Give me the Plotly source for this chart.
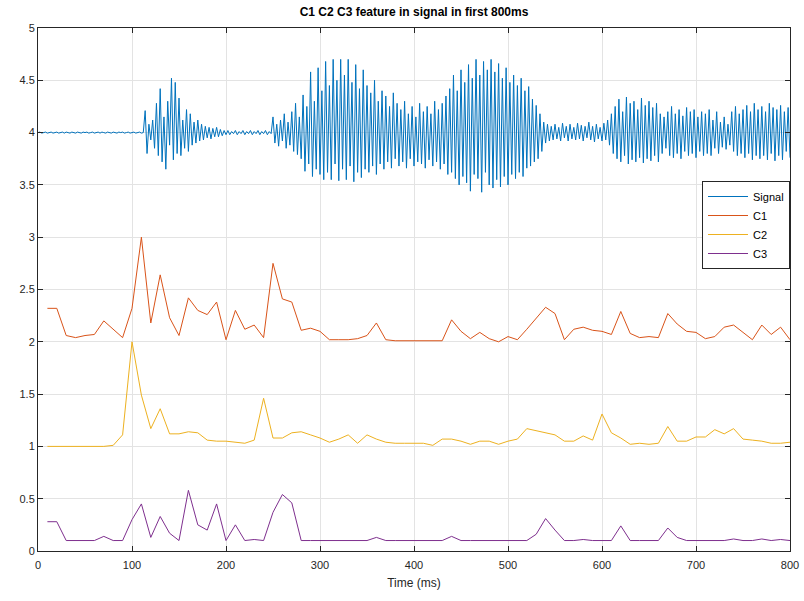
import plotly.graph_objects as go

# ---- data ----
feat_t = list(range(10, 801, 10))

c1 = [2.32, 2.32, 2.06, 2.04, 2.06, 2.07, 2.20, 2.12, 2.04, 2.32,
      3.00, 2.18, 2.64, 2.23, 2.06, 2.42, 2.30, 2.26, 2.38, 2.02,
      2.30, 2.12, 2.16, 2.04, 2.75, 2.41, 2.38, 2.11, 2.13, 2.10,
      2.02, 2.02, 2.02, 2.03, 2.06, 2.18, 2.02, 2.01, 2.01, 2.01,
      2.01, 2.01, 2.01, 2.21, 2.10, 2.03, 2.09, 2.03, 2.00, 2.05,
      2.02, 2.12, 2.22, 2.33, 2.27, 2.02, 2.12, 2.14, 2.11, 2.10,
      2.07, 2.29, 2.08, 2.04, 2.05, 2.04, 2.27, 2.17, 2.10, 2.09,
      2.03, 2.05, 2.14, 2.16, 2.09, 2.02, 2.16, 2.07, 2.14, 2.02]

c2 = [1.00, 1.00, 1.00, 1.00, 1.00, 1.00, 1.00, 1.01, 1.11, 2.00,
      1.49, 1.17, 1.36, 1.12, 1.12, 1.14, 1.13, 1.06, 1.05, 1.05,
      1.04, 1.03, 1.06, 1.46, 1.08, 1.08, 1.13, 1.14, 1.11, 1.08,
      1.04, 1.07, 1.11, 1.03, 1.11, 1.07, 1.04, 1.03, 1.03, 1.03,
      1.03, 1.01, 1.07, 1.07, 1.05, 1.02, 1.05, 1.05, 1.02, 1.05,
      1.07, 1.17, 1.15, 1.13, 1.11, 1.05, 1.05, 1.10, 1.06, 1.31,
      1.13, 1.08, 1.02, 1.03, 1.02, 1.03, 1.19, 1.05, 1.05, 1.09,
      1.09, 1.16, 1.12, 1.17, 1.07, 1.06, 1.05, 1.03, 1.03, 1.04]

c3 = [0.28, 0.28, 0.10, 0.10, 0.10, 0.10, 0.14, 0.10, 0.10, 0.30,
      0.45, 0.13, 0.33, 0.17, 0.10, 0.58, 0.25, 0.20, 0.45, 0.10,
      0.25, 0.10, 0.11, 0.10, 0.37, 0.54, 0.46, 0.10, 0.10, 0.10,
      0.10, 0.10, 0.10, 0.10, 0.10, 0.13, 0.10, 0.10, 0.10, 0.10,
      0.10, 0.10, 0.10, 0.14, 0.10, 0.10, 0.10, 0.10, 0.10, 0.10,
      0.10, 0.10, 0.16, 0.31, 0.20, 0.10, 0.10, 0.11, 0.10, 0.10,
      0.10, 0.24, 0.10, 0.10, 0.10, 0.10, 0.22, 0.13, 0.10, 0.10,
      0.10, 0.10, 0.10, 0.115, 0.10, 0.10, 0.115, 0.10, 0.11, 0.10]

# signal sampled every 2 ms (0 .. 800 ms)
signal = [
    4.000, 4.005, 3.995, 4.000, 4.005, 3.995, 4.000, 4.005, 3.995, 4.000,
    4.005, 3.995, 4.000, 4.005, 3.995, 4.005, 4.000, 3.995, 4.005, 4.000,
    3.995, 4.005, 4.000, 3.995, 4.005, 4.000, 4.005, 3.995, 4.000, 4.005,
    3.995, 4.000, 4.005, 3.995, 4.005, 4.000, 3.995, 4.005, 4.000, 3.995,
    4.005, 4.000, 3.995, 4.005, 4.000, 4.005, 3.995, 4.000, 4.005, 3.995,
    4.000, 4.005, 3.995, 4.000, 4.005, 3.995, 4.000,
    4.21, 3.80, 4.08, 3.93, 4.12, 3.85, 4.28, 3.78,
    4.42, 3.72, 4.15, 3.65, 4.30, 3.88, 4.52, 3.74, 4.48, 3.80,
    4.33, 3.78, 4.12, 3.85, 4.22, 3.82, 4.18, 3.88, 4.10, 3.90,
    4.12, 3.92, 4.08, 3.93, 4.06, 3.95, 4.05, 3.94, 4.04, 3.96,
    4.05, 3.96, 4.03, 3.97, 4.02, 3.98, 4.02, 3.98, 4.01, 3.99,
    4.02, 3.98, 4.01, 3.99, 4.02, 3.98, 4.01, 3.99, 4.02, 3.98,
    4.01, 3.99, 4.02, 3.98, 4.01, 3.99, 4.02, 3.98, 4.01, 3.99,
    4.15, 3.90, 4.08, 3.87, 4.12, 3.92, 4.18, 3.85, 4.10, 3.88,
    4.20, 3.82, 4.28, 3.79, 4.15, 3.75, 4.36, 3.63, 4.25, 3.70,
    4.58, 3.58, 4.30, 3.65, 4.62, 3.60, 4.40, 3.55, 4.68, 3.62,
    4.45, 3.55, 4.70, 3.70, 4.50, 3.54, 4.70, 3.65, 4.55, 3.55,
    4.70, 3.68, 4.48, 3.53, 4.65, 3.62, 4.42, 3.57, 4.60, 3.65,
    4.45, 3.62, 4.38, 3.68, 4.50, 3.60, 4.30, 3.70, 4.40, 3.65,
    4.35, 3.72, 4.25, 3.66, 4.38, 3.75, 4.28, 3.68, 4.22, 3.72,
    4.30, 3.66, 4.18, 3.75, 4.25, 3.68, 4.15, 3.72, 4.28, 3.70,
    4.20, 3.66, 4.25, 3.74, 4.18, 3.68, 4.30, 3.72, 4.22, 3.65,
    4.28, 3.70, 4.35, 3.60, 4.42, 3.62, 4.55, 3.56, 4.40, 3.50,
    4.60, 3.58, 4.48, 3.52, 4.65, 3.44, 4.52, 3.60, 4.70, 3.56,
    4.55, 3.43, 4.68, 3.62, 4.60, 3.50, 4.70, 3.47, 4.58, 3.55,
    4.66, 3.48, 4.52, 3.58, 4.62, 3.50, 4.48, 3.60, 4.55, 3.56,
    4.45, 3.62, 4.52, 3.58, 4.40, 3.66, 4.44, 3.68, 4.32, 3.72,
    4.26, 3.75, 4.18, 3.82, 4.10, 3.90, 4.08, 3.92, 4.06, 3.93,
    4.08, 3.94, 4.05, 3.92, 4.09, 3.95, 4.06, 3.92, 4.08, 3.94,
    4.05, 3.93, 4.09, 3.94, 4.07, 3.92, 4.06, 3.95, 4.10, 3.93,
    4.06, 3.91, 4.08, 3.94, 4.05, 3.92, 4.09, 3.93, 4.12, 3.88,
    4.18, 3.80, 4.25, 3.75, 4.32, 3.72, 4.20, 3.78, 4.34, 3.70,
    4.28, 3.74, 4.30, 3.72, 4.22, 3.76, 4.33, 3.71, 4.26, 3.75,
    4.30, 3.73, 4.24, 3.78, 4.28, 3.72, 4.18, 3.80, 4.15, 3.85,
    4.20, 3.78, 4.25, 3.76, 4.18, 3.80, 4.22, 3.75, 4.16, 3.82,
    4.24, 3.78, 4.20, 3.80, 4.22, 3.76, 4.15, 3.82, 4.20, 3.78,
    4.18, 3.80, 4.22, 3.78, 4.12, 3.85, 4.20, 3.80, 4.10, 3.86,
    4.15, 3.84, 4.08, 3.88, 4.20, 3.82, 4.25, 3.78, 4.18, 3.80,
    4.22, 3.76, 4.26, 3.80, 4.20, 3.74, 4.28, 3.78, 4.22, 3.75,
    4.25, 3.78, 4.20, 3.74, 4.28, 3.80, 4.24, 3.73, 4.22, 3.78,
    4.26, 3.74, 4.20, 3.82, 4.24, 3.76,
]
signal_t = [2 * i for i in range(len(signal))]

x_ticks = [0, 100, 200, 300, 400, 500, 600, 700, 800]
y_ticks = [0, 0.5, 1, 1.5, 2, 2.5, 3, 3.5, 4, 4.5, 5]

# ---- figure ----
FONT = "Liberation Sans, Arial, sans-serif"
fig = go.Figure()
fig.add_trace(go.Scatter(x=signal_t, y=signal, mode="lines", name="Signal",
                         line=dict(color="#0072BD", width=1)))
fig.add_trace(go.Scatter(x=feat_t, y=c1, mode="lines", name="C1",
                         line=dict(color="#D95319", width=1)))
fig.add_trace(go.Scatter(x=feat_t, y=c2, mode="lines", name="C2",
                         line=dict(color="#EDB120", width=1)))
fig.add_trace(go.Scatter(x=feat_t, y=c3, mode="lines", name="C3",
                         line=dict(color="#7E2F8E", width=1)))

axis_common = dict(
    showgrid=True, gridcolor="#e3e3e3", gridwidth=1,
    showline=True, linecolor="#262626", linewidth=1, mirror="ticks",
    ticks="inside", ticklen=5, tickcolor="#262626",
    tickfont=dict(family=FONT, size=11, color="#262626"),
    zeroline=False, automargin=False,
)

fig.update_layout(
    width=804, height=601,
    margin=dict(l=38, r=14, t=28, b=50, autoexpand=False),
    paper_bgcolor="white", plot_bgcolor="white",
    font=dict(family=FONT, size=11, color="#262626"),
    title=dict(text="<b>C1 C2 C3 feature in signal in first 800ms</b>",
               x=0.5, xanchor="center", xref="paper",
               y=1 - 12 / 601, yref="container", yanchor="middle",
               font=dict(family=FONT, size=12, color="#000000")),
    xaxis=dict(range=[0, 800], tickvals=x_ticks, ticklabelstandoff=4,
               title=dict(text="Time (ms)", standoff=8,
                          font=dict(family=FONT, size=12, color="#262626")),
               **axis_common),
    yaxis=dict(range=[0, 5], tickvals=y_ticks, **axis_common),
    legend=dict(x=1, xanchor="right", xref="paper",
                y=(551 - 181) / 523, yanchor="top", yref="paper",
                bgcolor="white", bordercolor="#262626", borderwidth=1,
                font=dict(family=FONT, size=11, color="#000000"),
                tracegroupgap=0, itemwidth=40),
    showlegend=True,
)

# remove the default 8px page margin so the figure sits at the window origin
fig.write_html("out.html",
               config={"displayModeBar": False},
               post_script="document.body.style.margin='0';")
